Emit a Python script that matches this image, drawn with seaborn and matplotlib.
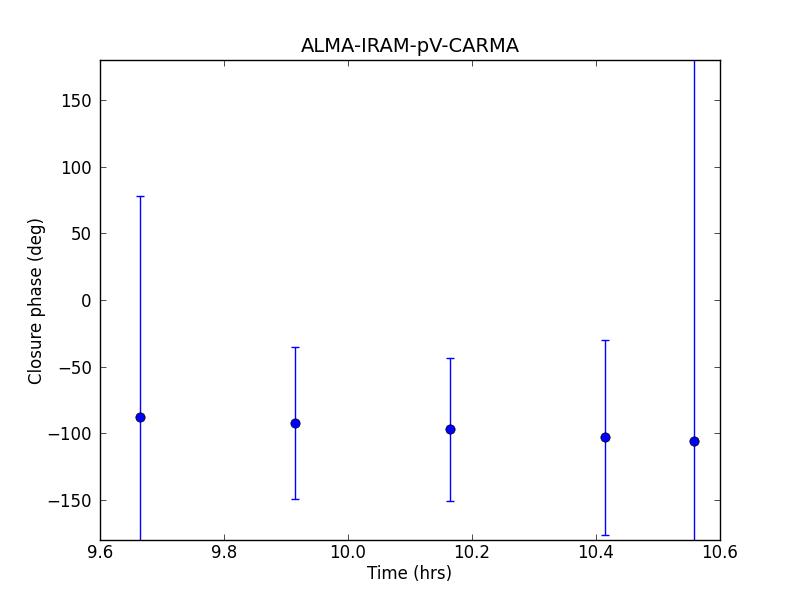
import numpy as np
import matplotlib
matplotlib.use('Agg')
import matplotlib.pyplot as plt
import seaborn as sns
import pandas as pd

# closure phase per scan
time_hrs = [9.665, 9.915, 10.165, 10.415, 10.558]
phase_deg = [-88.0, -92.0, -97.0, -103.0, -106.0]
phase_err = [166.0, 57.0, 53.5, 73.0, 320.0]

df = pd.DataFrame({'time': time_hrs, 'phase': phase_deg, 'err': phase_err})

sns.set_style('white')
plt.rcParams['font.family'] = ['DejaVu Sans']
plt.rcParams['font.size'] = 12
plt.rcParams['text.color'] = 'black'
plt.rcParams['axes.labelcolor'] = 'black'

fig = plt.figure(figsize=(8, 6), dpi=100)
ax = fig.add_axes([0.125, 0.1, 0.775, 0.8])

ax.errorbar(df['time'], df['phase'], yerr=df['err'], fmt='none',
            ecolor='blue', elinewidth=1, capsize=3, capthick=1, zorder=2)
sns.scatterplot(data=df, x='time', y='phase', ax=ax, color='blue',
                edgecolor='black', linewidth=0.5, s=45, zorder=3, legend=False)

ax.set_xlim(9.6, 10.6)
ax.set_ylim(-180, 180)
ax.set_xticks([9.6, 9.8, 10.0, 10.2, 10.4, 10.6])
ax.set_yticks([-150, -100, -50, 0, 50, 100, 150])
ax.set_xlabel('Time (hrs)', fontsize=12, color='black', labelpad=2)
ax.set_ylabel('Closure phase (deg)', fontsize=12, color='black', labelpad=0)
ax.set_title('ALMA-IRAM-pV-CARMA', fontsize=14, color='black')

ax.tick_params(direction='in', length=4, width=0.5, top=True, right=True,
               bottom=True, left=True, labelsize=12, pad=6, colors='black')
ax.tick_params(axis='x', pad=3)
for sp in ax.spines.values():
    sp.set_visible(True)
    sp.set_color('black')
    sp.set_linewidth(1)

fig.savefig('out.png', dpi=100)
